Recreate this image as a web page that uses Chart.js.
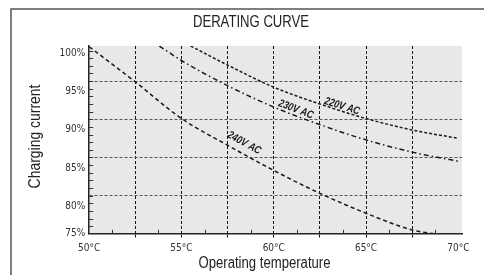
<html>
<head>
<title>Derating curve</title>
<script src="https://cdn.jsdelivr.net/npm/chart.js"></script>
<style>
    body {
        margin: 0;
        background: #fff;
    }
</style>
</head>
<body>
<canvas id="chart" width="484" height="275"></canvas>
<script>
// 240V AC curve
const temps240 = [50, 52.5, 55, 57.5, 60, 62.5, 65, 67.5, 68.7];
const current240 = [99.5, 94.9, 90.1, 86.6, 83.3, 80.3, 77.7, 75.5, 75.0];
// 230V AC curve
const temps230 = [53.8, 55, 57.5, 60, 62.5, 65, 67.5, 70];
const current230 = [99.6, 97.7, 94.4, 91.6, 89.3, 87.3, 85.7, 84.5];
// 220V AC curve
const temps220 = [55.5, 57.5, 60, 62.5, 65, 67.5, 70];
const current220 = [99.6, 97.1, 94.2, 92.0, 90.1, 88.6, 87.5];

const xTickValues = [50, 55, 60, 65, 70];
const xTickLabels = ['50°C', '55°C', '60°C', '65°C', '70°C'];
const xGridValues = [52.5, 55, 57.5, 60, 62.5, 65, 67.5];
const xMinorValues = [51.25, 53.75, 56.25, 58.75, 61.25, 63.75, 66.25, 68.75];

const yTickValues = [80, 85, 90, 95, 100];
const yTickLabels = ['80%', '85%', '90%', '95%', '100%'];
const yGridValues = [80, 85, 90, 95];
const yBaseValue = 75;
const yBaseLabel = '75%';

const curveLabels = [
    { text: '240V AC', series: 0, x: 58.4, y: 86.9 },
    { text: '230V AC', series: 1, x: 61.2, y: 91.3 },
    { text: '220V AC', series: 2, x: 63.7, y: 91.7 }
];

const tickFont = "'DejaVu Sans Condensed', sans-serif";
const titleFont = "'Liberation Sans', Arial, sans-serif";
const squeeze = 0.82;   // fake a condensed face
Chart.defaults.font.family = tickFont;
Chart.defaults.color = '#333';

function points(xs, ys) {
    return xs.map((v, i) => ({ x: v, y: ys[i] }));
}

function narrowText(ctx, text, x, y, angle) {
    ctx.save();
    ctx.translate(x, y);
    ctx.rotate(angle || 0);
    ctx.scale(squeeze, 1);
    ctx.fillText(text, 0, 0);
    ctx.restore();
}

const decor = {
    id: 'decor',
    beforeDraw(chart) {
        const { ctx, chartArea: a } = chart;
        ctx.save();
        ctx.fillStyle = '#e8e8e8';
        ctx.fillRect(a.left, a.top, a.right - a.left, a.bottom - a.top);
        ctx.strokeStyle = '#555';
        ctx.lineWidth = 1.5;
        ctx.beginPath();
        ctx.moveTo(11, 275);
        ctx.lineTo(11, 9);
        ctx.lineTo(484, 9);
        ctx.stroke();
        ctx.restore();
    },
    afterDraw(chart) {
        const { ctx, chartArea: a, scales: { x, y } } = chart;
        ctx.save();
        // inner minor ticks
        ctx.strokeStyle = '#333';
        ctx.lineWidth = 1;
        ctx.beginPath();
        for (let v = 76; v < 100; v++) {
            const py = Math.round(y.getPixelForValue(v)) + 0.5;
            ctx.moveTo(a.left, py);
            ctx.lineTo(a.left + 4, py);
        }
        xMinorValues.forEach(v => {
            const px = Math.round(x.getPixelForValue(v)) + 0.5;
            ctx.moveTo(px, a.bottom);
            ctx.lineTo(px, a.bottom - 4);
        });
        ctx.stroke();

        // base label of the y axis sits on the axis line
        ctx.fillStyle = '#333';
        ctx.font = '10px ' + tickFont;
        ctx.textAlign = 'right';
        ctx.textBaseline = 'middle';
        ctx.fillText(yBaseLabel, a.left - 4, y.getPixelForValue(yBaseValue));

        // titles
        ctx.fillStyle = '#222';
        ctx.textAlign = 'center';
        ctx.textBaseline = 'alphabetic';
        ctx.font = '16px ' + titleFont;
        narrowText(ctx, 'DERATING CURVE', 251, 27);
        narrowText(ctx, 'Operating temperature', 264.5, 268);
        ctx.font = '17px ' + titleFont;
        narrowText(ctx, 'Charging current', 40, 136.5, -Math.PI / 2);

        // curve labels, turned along their curve
        ctx.font = 'italic bold 11px ' + titleFont;
        ctx.fillStyle = '#1a1a1a';
        ctx.textBaseline = 'middle';
        curveLabels.forEach(l => {
            const data = chart.data.datasets[l.series].data;
            let i = 0;
            while (i < data.length - 2 && data[i + 1].x < l.x) i++;
            const p0 = data[i], p1 = data[i + 1];
            const ang = Math.atan2(
                y.getPixelForValue(p1.y) - y.getPixelForValue(p0.y),
                x.getPixelForValue(p1.x) - x.getPixelForValue(p0.x));
            narrowText(ctx, l.text, x.getPixelForValue(l.x), y.getPixelForValue(l.y), ang);
        });
        ctx.restore();
    }
};

const lineStyle = {
    borderColor: '#1a1a1a',
    borderWidth: 1.5,
    pointRadius: 0,
    cubicInterpolationMode: 'monotone',
    fill: false
};

const config = {
    type: 'line',
    data: {
        datasets: [
            { ...lineStyle, label: '240V AC', data: points(temps240, current240), borderDash: [4, 3] },
            { ...lineStyle, label: '230V AC', data: points(temps230, current230), borderDash: [5, 3, 1.5, 3] },
            { ...lineStyle, label: '220V AC', data: points(temps220, current220), borderDash: [3, 2] }
        ]
    },
    options: {
        responsive: false,
        animation: false,
        layout: {
            padding: { top: 46, left: 40, right: 22, bottom: 16 }
        },
        plugins: {
            legend: { display: false },
            tooltip: { enabled: false }
        },
        scales: {
            x: {
                type: 'linear',
                min: 50,
                max: 70.2,
                afterBuildTicks: axis => {
                    axis.ticks = [...new Set([...xTickValues, ...xGridValues])]
                        .sort((p, q) => p - q)
                        .map(v => ({ value: v }));
                },
                afterFit: axis => { axis.height = 25.2; },
                ticks: {
                    autoSkip: false,
                    maxRotation: 0,
                    padding: 4,
                    font: { size: 10 },
                    callback: v => {
                        const i = xTickValues.indexOf(v);
                        return i >= 0 ? xTickLabels[i] : '';
                    }
                },
                grid: {
                    color: c => xGridValues.includes(c.tick && c.tick.value) ? '#111' : 'rgba(0,0,0,0)',
                    tickColor: c => xGridValues.includes(c.tick && c.tick.value) ? '#111' : 'rgba(0,0,0,0)',
                    lineWidth: 1,
                    tickLength: 5,
                    tickBorderDash: [3, 2]
                },
                border: { color: '#222', width: 1.5, dash: [3, 2] }
            },
            y: {
                type: 'linear',
                position: 'left',
                min: 75,
                max: 99.6,
                afterBuildTicks: axis => {
                    axis.ticks = yTickValues.map(v => ({ value: v }));
                },
                afterFit: axis => { axis.width = 49.2; },
                ticks: {
                    autoSkip: false,
                    padding: 4,
                    labelOffset: 10.5,
                    font: { size: 10 },
                    callback: v => yTickLabels[yTickValues.indexOf(v)]
                },
                grid: {
                    drawTicks: false,
                    color: c => yGridValues.includes(c.tick && c.tick.value) ? '#555' : 'rgba(0,0,0,0)',
                    lineWidth: 1
                },
                border: { color: '#222', width: 1.5, dash: [3, 2] }
            }
        }
    },
    plugins: [decor]
};

new Chart(document.getElementById('chart'), config);
</script>
</body>
</html>
